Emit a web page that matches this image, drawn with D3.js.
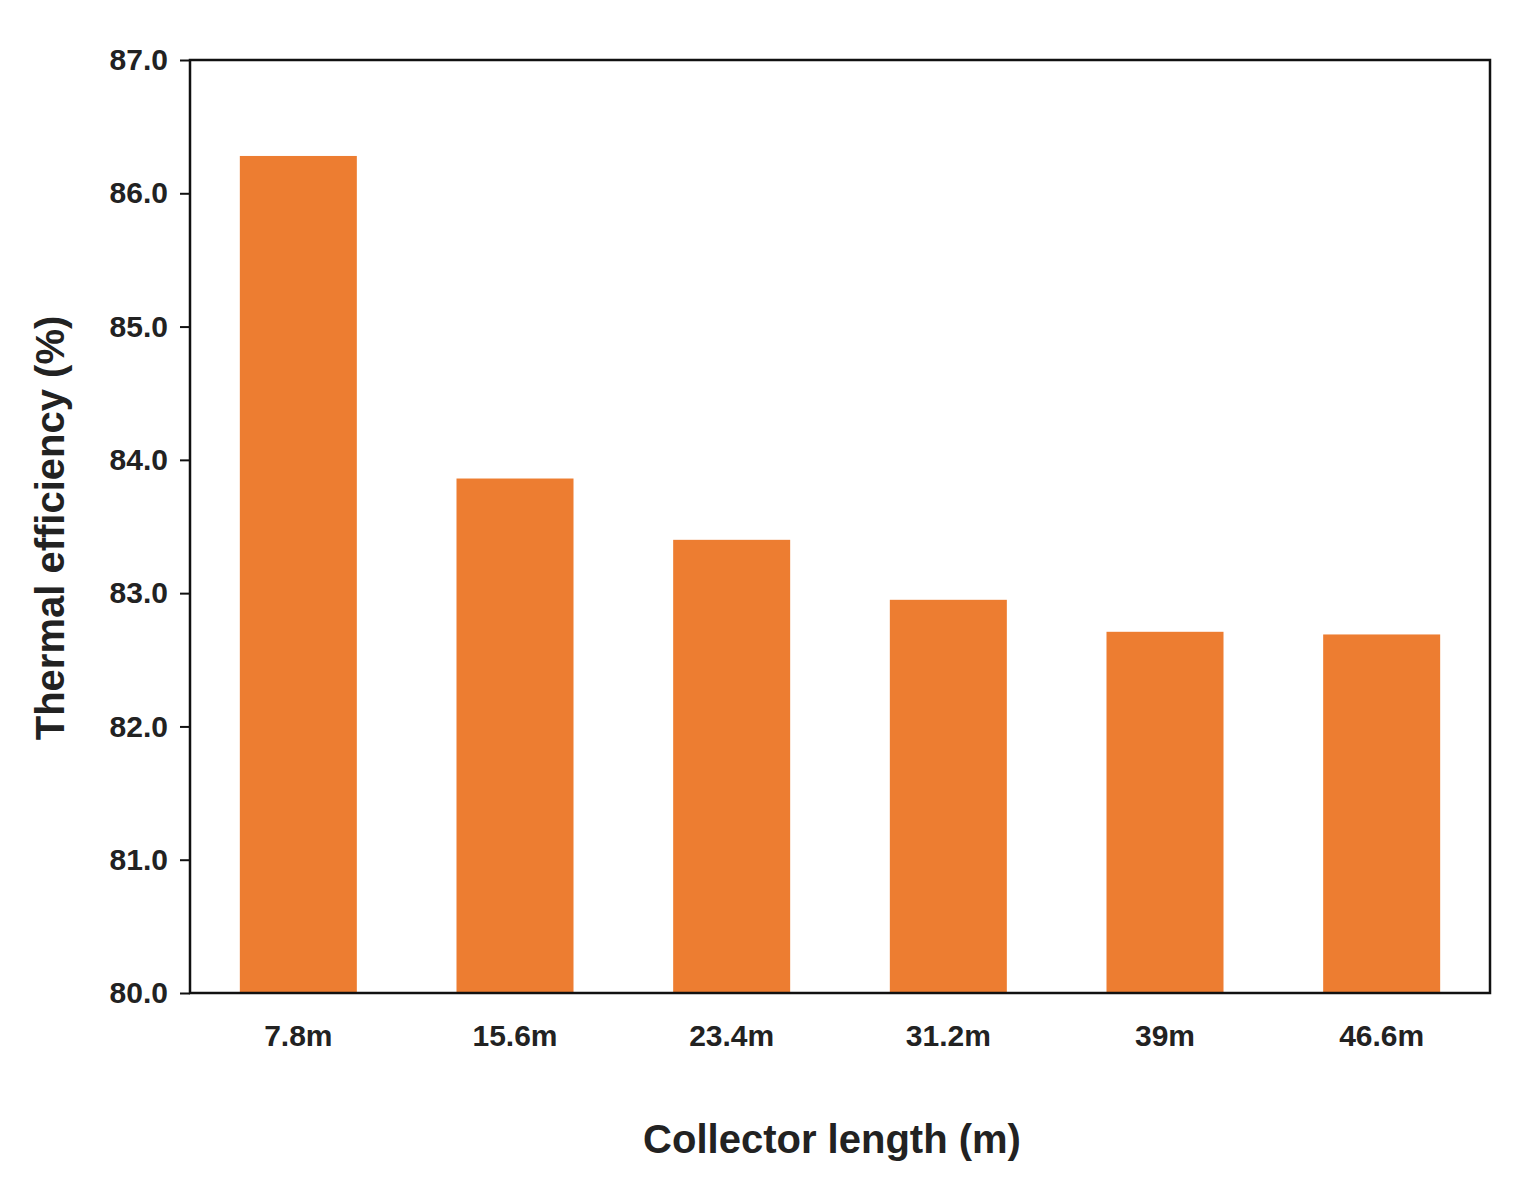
<!DOCTYPE html>
<html><head><meta charset="utf-8">
<script src="https://cdn.jsdelivr.net/npm/d3@7"></script>
<style>body{margin:0;background:#fff}text{font-family:"Liberation Sans",Arial,sans-serif;font-weight:bold;fill:#222}</style>
</head><body><svg id="c" width="1528" height="1202"></svg>
<script>
var categories = ["7.8m", "15.6m", "23.4m", "31.2m", "39m", "46.6m"];
var efficiency = [86.28, 83.86, 83.40, 82.95, 82.71, 82.69];
var yTicks = [80, 81, 82, 83, 84, 85, 86, 87];

var svg = d3.select("#c"),
    m = {left: 190, right: 38, top: 60, bottom: 209},
    w = 1528 - m.left - m.right,
    h = 1202 - m.top - m.bottom;
var g = svg.append("g").attr("transform", "translate(" + m.left + "," + m.top + ")");

var x = d3.scaleBand().domain(categories).range([0, w]).paddingInner(0.46).paddingOuter(0.23);
var y = d3.scaleLinear().domain([80, 87]).range([h, 0]);

g.selectAll(".bar").data(efficiency).enter().append("rect")
    .attr("x", function(d, i) { return x(categories[i]); })
    .attr("y", function(d) { return y(d); })
    .attr("width", x.bandwidth())
    .attr("height", function(d) { return h - y(d); })
    .attr("fill", "#ED7D31");

// frame
g.append("rect").attr("width", w).attr("height", h).attr("fill", "none").attr("stroke", "#111").attr("stroke-width", 2.5);

var ya = g.append("g").call(d3.axisLeft(y).tickValues(yTicks).tickSize(10).tickPadding(12));
ya.select(".domain").remove();
ya.selectAll("line").attr("stroke", "#111").attr("stroke-width", 2);
ya.selectAll("text").style("font-size", "30px");

var xa = g.append("g").attr("transform", "translate(0," + h + ")")
    .call(d3.axisBottom(x).tickSize(0).tickPadding(32));
xa.select(".domain").remove();
xa.selectAll("text").style("font-size", "30px");

svg.append("text").attr("x", 832).attr("y", 1153).attr("text-anchor", "middle")
    .style("font-size", "40px").text("Collector length (m)");
svg.append("text").attr("transform", "translate(64,528) rotate(-90)").attr("text-anchor", "middle")
    .style("font-size", "40px").text("Thermal efficiency (%)");
</script></body></html>
